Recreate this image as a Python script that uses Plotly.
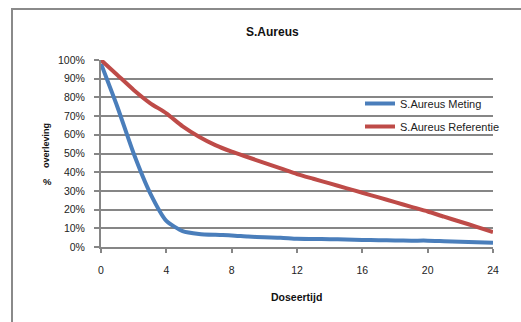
import plotly.graph_objects as go

hours = list(range(0, 25))
meting = [98, 75, 50, 29, 14, 8.5, 7, 6.5, 6.2, 5.6, 5.2, 5.0, 4.4, 4.3, 4.2, 4.0, 3.8, 3.6, 3.5, 3.4, 3.4, 3.1, 2.8, 2.6, 2.3]
referentie = [100, 92, 84, 77, 71.5, 64.5, 59, 54.5, 51, 48, 45, 42, 39, 36.5, 34, 31.5, 29, 26.5, 24, 21.5, 19, 16.2, 13.5, 10.8, 8]
series_names = ["S.Aureus Meting", "S.Aureus Referentie"]
series_colors = ["#4A7EBB", "#BE4B48"]

W, H = 521, 322
L, R, T, B = 101, 493, 60, 247
pw, ph = R - L, B - T

def px(x):
    return (x - L) / pw

def py(y):
    return (B - y) / ph

fig = go.Figure()
for i, (name, vals) in enumerate(zip(series_names, [meting, referentie])):
    fig.add_trace(go.Scatter(
        x=hours, y=[v / 100 for v in vals], mode="lines", name=name,
        line=dict(color=series_colors[i], width=4, shape="spline", smoothing=0.6),
        legendgroup=name,
    ))

grid = "#868686"
font = "Liberation Sans"
fig.update_layout(
    width=W, height=H,
    margin=dict(l=L, r=W - R, t=T, b=H - B),
    paper_bgcolor="white", plot_bgcolor="white",
    font=dict(family=font, size=10, color="#222"),
    showlegend=True,
    legend=dict(x=px(360), y=py(89), xanchor="left", yanchor="top",
                bgcolor="rgba(0,0,0,0)", font=dict(size=11, color="#222"),
                tracegroupgap=4, itemwidth=30),
    xaxis=dict(range=[0, 24], tickvals=[0, 4, 8, 12, 16, 20, 24],
               showgrid=False, showline=True, linecolor=grid, linewidth=2,
               ticks="outside", ticklen=4, tickwidth=1.5, tickcolor=grid,
               ticklabelstandoff=8, zeroline=False, tickfont=dict(size=10.5)),
    yaxis=dict(range=[0, 1], tickvals=[i / 10 for i in range(11)], tickformat=".0%",
               showgrid=True, gridcolor=grid, gridwidth=2,
               showline=True, linecolor=grid, linewidth=2,
               ticks="outside", ticklen=5, tickwidth=1.5, tickcolor=grid,
               ticklabelstandoff=7, zeroline=False, tickfont=dict(size=10.5)),
    shapes=[dict(type="rect", xref="paper", yref="paper",
                 x0=px(12), x1=px(560), y0=py(360), y1=py(9),
                 line=dict(color="#8a8a8a", width=2), fillcolor="rgba(0,0,0,0)", layer="below")],
    annotations=[
        dict(text="<b>S.Aureus</b>", xref="paper", yref="paper", x=px(272), y=py(32),
             showarrow=False, font=dict(size=12, color="#111"), xanchor="center", yanchor="middle"),
        dict(text="<b>Doseertijd</b>", xref="paper", yref="paper", x=px(296), y=py(297),
             showarrow=False, font=dict(size=10.5, color="#111"), xanchor="center", yanchor="middle"),
        dict(text="<b>overleving</b>", xref="paper", yref="paper", x=px(46), y=py(146),
             showarrow=False, textangle=-90, font=dict(size=9, color="#111"),
             xanchor="center", yanchor="middle"),
        dict(text="<b>%</b>", xref="paper", yref="paper", x=px(47), y=py(181),
             showarrow=False, font=dict(size=9.5, color="#111"), xanchor="center", yanchor="middle"),
    ],
)

fig.write_html("out.html")
